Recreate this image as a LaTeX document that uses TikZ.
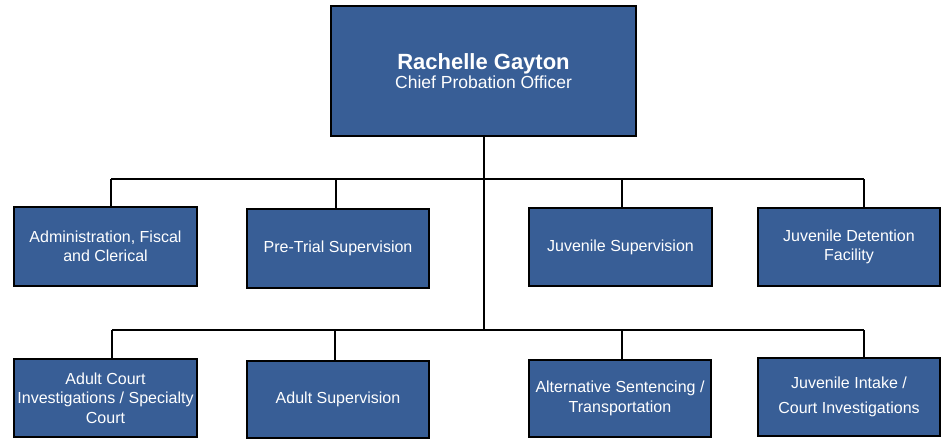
\documentclass[tikz,border=0pt]{standalone}
\usepackage{fontspec}
\setmainfont{Liberation Sans}
\definecolor{boxblue}{RGB}{56,94,150}
\begin{document}
\begin{tikzpicture}[x=1pt,y=-1pt,
  unit/.style={draw=black, line width=2.2pt, fill=boxblue, text=white,
    align=center, inner sep=0pt, font=\fontsize{16}{19.5}\selectfont},
  link/.style={draw=black, line width=2pt}]
\useasboundingbox (0,0) rectangle (943,440);

% head of department
\node[unit, minimum width=304.8pt, minimum height=129.8pt] (chief) at (483.5,71)
  {{\fontsize{22}{24}\selectfont\bfseries Rachelle Gayton}\\[-1pt]
   {\fontsize{17.5}{20}\selectfont Chief Probation Officer}};

% first row of divisions
\node[unit, minimum width=182.8pt, minimum height=78.8pt] (adm) at (105.5,246.5)
  {Administration, Fiscal\\and Clerical};
\node[unit, minimum width=181.8pt, minimum height=78.8pt] (ptr) at (338,248.5)
  {Pre-Trial Supervision};
\node[unit, minimum width=182.8pt, minimum height=77.8pt] (juv) at (620.5,247)
  {Juvenile Supervision};
\node[unit, minimum width=181.8pt, minimum height=77.8pt] (det) at (849,247)
  {Juvenile Detention\\Facility};

% second row of divisions
\node[unit, minimum width=182.8pt, minimum height=77.8pt] (acr) at (105.5,398)
  {Adult Court\\Investigations / Specialty\\Court};
\node[unit, minimum width=181.8pt, minimum height=76.8pt] (asu) at (338,399.5)
  {Adult Supervision};
\node[unit, minimum width=181.8pt, minimum height=76.8pt] (alt) at (620,398.5)
  {Alternative Sentencing /\\Transportation};
\node[unit, minimum width=181.8pt, minimum height=77.8pt] (jin) at (849,397)
  {Juvenile Intake /\\[5.5pt]Court Investigations};

% junction points on the two horizontal bars
\coordinate (ta) at (111,179);
\coordinate (tb) at (336,179);
\coordinate (tc) at (622,179);
\coordinate (td) at (864,179);
\coordinate (ba) at (112,330);
\coordinate (bb) at (335,330);
\coordinate (bc) at (622,330);
\coordinate (bd) at (864,330);
\coordinate (trunk) at (484,330);

% trunk and bars
\draw[link] (chief.south -| trunk) -- (trunk);
\draw[link] (ta) -- (td);
\draw[link] (ba) -- (bd);

% drops to each division
\draw[link] (ta) -- (ta |- adm.north);
\draw[link] (tb) -- (tb |- ptr.north);
\draw[link] (tc) -- (tc |- juv.north);
\draw[link] (td) -- (td |- det.north);
\draw[link] (ba) -- (ba |- acr.north);
\draw[link] (bb) -- (bb |- asu.north);
\draw[link] (bc) -- (bc |- alt.north);
\draw[link] (bd) -- (bd |- jin.north);
\end{tikzpicture}
\end{document}
